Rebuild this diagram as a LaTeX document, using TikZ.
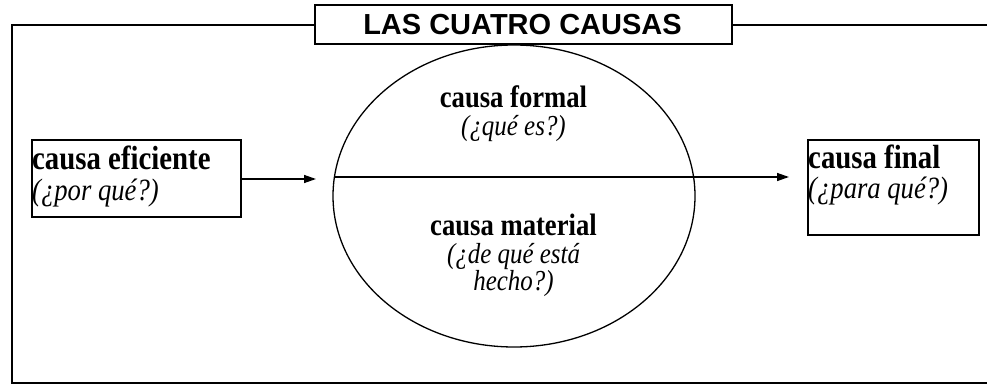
\documentclass[tikz,border=0pt]{standalone}
\usepackage{fontspec}
\setmainfont{Liberation Serif}
\newfontfamily\titlefont{Liberation Sans}
\newfontfamily\narrowserif[FakeStretch=0.86]{Liberation Serif}
\usetikzlibrary{shapes.geometric,arrows.meta}
\tikzset{
  frameline/.style={line width=2pt},
  boxst/.style={draw, line width=1.5pt, inner sep=0pt},
  conn/.style={line width=1.4pt, -{Triangle[length=12pt,width=8pt]}},
  bt/.style={inner sep=0pt, anchor=base west, font=\narrowserif\fontsize{33.5}{33.5}\selectfont\bfseries},
  it/.style={inner sep=0pt, anchor=base west, font=\narrowserif\fontsize{31}{31}\selectfont\itshape},
  bc/.style={inner sep=0pt, anchor=base, font=\narrowserif\fontsize{31}{31}\selectfont\bfseries},
  ic/.style={inner sep=0pt, anchor=base, font=\narrowserif\fontsize{29}{29}\selectfont\itshape}
}
\begin{document}
\begin{tikzpicture}[x=1pt,y=-1pt]
\useasboundingbox (0,0) rectangle (987,385);
\fill[white] (0,0) rectangle (987,385);
% outer frame
\draw[frameline] (990,25) -- (12,25) -- (12,383) -- (990,383);
% title
\node[boxst, fill=white, minimum width=417pt, minimum height=39pt] (title) at (523.5,24.5) {};
\node[inner sep=0pt, anchor=base, font=\titlefont\fontsize{29}{29}\selectfont\bfseries] (titletext) at (522.5,34.5) {LAS CUATRO CAUSAS};
% left box
\node[boxst, minimum width=209pt, minimum height=77pt, anchor=north west] (ef) at (31,139) {};
\node[bt] (eft1) at (32,169) {causa eficiente};
\node[it] (eft2) at (32,200) {(¿por qué?)};
% right box
\node[boxst, minimum width=171pt, minimum height=95pt, anchor=north west] (fin) at (807,139) {};
\node[bt] (fint1) at (808,168) {causa final};
\node[it] (fint2) at (808,198) {(¿para qué?)};
% ellipse
\node[draw, ellipse, line width=1.3pt, minimum width=362pt, minimum height=302pt, inner sep=0pt] (el) at (514,196) {};
\coordinate (chl) at ([shift={(-179.6,-19)}]el.center);
\coordinate (chr) at ([shift={(179.6,-19)}]el.center);
\draw[line width=1.8pt] (chl) -- (chr);
\node[bc] (fo1) at (513.5,108) {causa formal};
\node[ic] (fo2) at (513.5,135.5) {(¿qué es?)};
\node[bc] (ma1) at (513.5,235) {causa material};
\node[ic] (ma2) at (513.5,263) {(¿de qué está};
\node[ic] (ma3) at (513.5,290) {hecho?)};
% connectors
\coordinate (a1) at (316,179);
\draw[conn] (ef.east |- a1) -- (a1);
\coordinate (a2) at (789,177);
\draw[conn] (chr) -- (a2);
\end{tikzpicture}
\end{document}
